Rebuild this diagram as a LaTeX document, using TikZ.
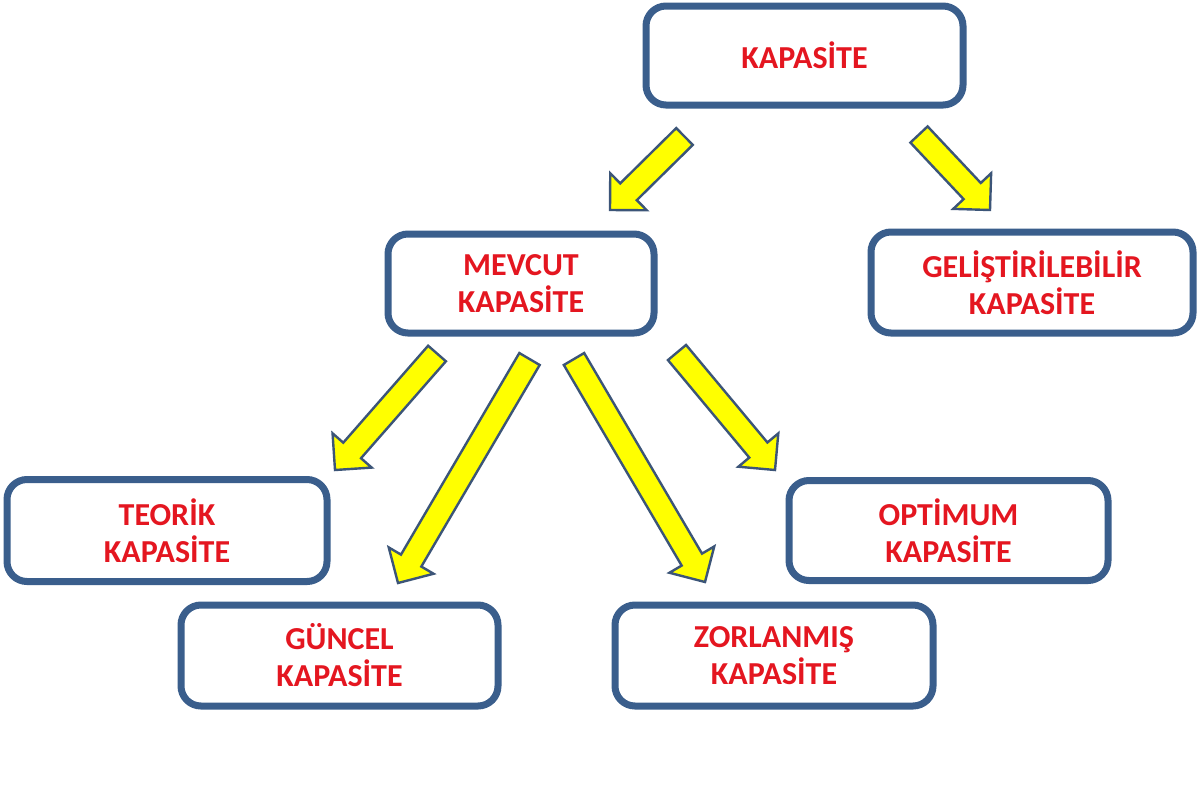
\documentclass[tikz,border=0pt]{standalone}
\usepackage{fontspec}
\setmainfont{Carlito}
\usetikzlibrary{calc}
\definecolor{boxblue}{RGB}{58,94,140}
\definecolor{txtred}{RGB}{228,22,32}
\definecolor{arryel}{RGB}{255,255,0}
\definecolor{arrline}{RGB}{60,85,120}
\tikzset{
  kbox/.style={draw=boxblue, line width=3.5pt, rounded corners=10pt, fill=white,
    text=txtred, font=\bfseries\fontsize{16}{18.5}\selectfont, align=center,
    inner sep=0pt, minimum width=159pt, minimum height=50pt},
  arrowstyle/.style={fill=arryel, draw=arrline, line width=1.2pt, line join=miter}
}
\newcommand\blockarrow[3]{%
  \coordinate (#1h) at ($(#3)!13pt!(#2)$);
  \filldraw[arrowstyle]
    ($(#2)!5.9pt!90:(#3)$) -- ($(#1h)!5.9pt!90:(#3)$) -- ($(#1h)!13pt!90:(#3)$)
    -- (#3) -- ($(#1h)!13pt!-90:(#3)$) -- ($(#1h)!5.9pt!-90:(#3)$)
    -- ($(#2)!5.9pt!-90:(#3)$) -- cycle;
}
\begin{document}
\begin{tikzpicture}[x=0.5pt,y=-0.5pt]
\useasboundingbox (0,0) rectangle (1200,800);
\fill[white] (0,0) rectangle (1200,800);

\node[kbox, minimum width=158.5pt, minimum height=49.5pt] (kap) at (804.5,55.5) {KAPASİTE};
\node[kbox, minimum width=133pt, minimum height=49.5pt] (mev) at (521,283.5) {MEVCUT\\KAPASİTE};
\node[kbox, minimum width=161pt, minimum height=50.5pt] (gel) at (1032,282.5) {GELİŞTİRİLEBİLİR\\KAPASİTE};
\node[kbox, minimum width=160pt, minimum height=51pt] (teo) at (167,530.5) {TEORİK\\KAPASİTE};
\node[kbox, minimum width=158.5pt, minimum height=50.5pt] (gun) at (339.5,655.5) {GÜNCEL\\KAPASİTE};
\node[kbox, minimum width=159pt, minimum height=50.5pt] (zor) at (774,655.5) {ZORLANMIŞ\\KAPASİTE};
\node[kbox, minimum width=159.5pt, minimum height=50pt] (opt) at (948.5,530.5) {OPTİMUM\\KAPASİTE};

\coordinate (aS) at (684.5,136.5); \coordinate (aT) at (610,210);
\coordinate (bS) at (919,134.5);   \coordinate (bT) at (990,210);
\coordinate (cS) at (437,353.5);   \coordinate (cT) at (335,470);
\coordinate (dS) at (529.5,359);   \coordinate (dT) at (398,583);
\coordinate (eS) at (574,359);     \coordinate (eT) at (705,582);
\coordinate (fS) at (677,352.5);   \coordinate (fT) at (775,470);

\blockarrow{a}{aS}{aT}
\blockarrow{b}{bS}{bT}
\blockarrow{c}{cS}{cT}
\blockarrow{d}{dS}{dT}
\blockarrow{e}{eS}{eT}
\blockarrow{f}{fS}{fT}
\end{tikzpicture}
\end{document}
